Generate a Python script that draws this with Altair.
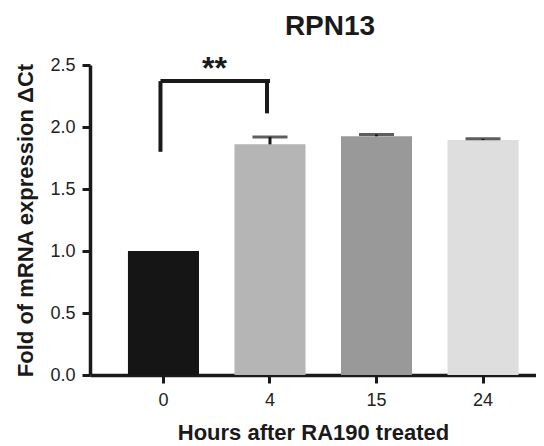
import altair as alt
import pandas as pd

hours = ["0", "4", "15", "24"]
means = [1.0, 1.86, 1.925, 1.895]
errors = [0.0, 0.06, 0.015, 0.01]
colors = ["#151515", "#b5b5b5", "#999999", "#dedede"]

# significance bracket between hour 0 and hour 4
bracket_x = ["0", "4"]
bracket_y_left = 1.80
bracket_y_right = 2.11
bracket_top = 2.37
sig_label = "**"

FONT = "Liberation Sans"
INK = "#1a1a1a"

df = pd.DataFrame({"hour": hours, "mean": means, "err": errors, "color": colors})
df["upper"] = df["mean"] + df["err"]
df_err = df[df["err"] > 0]

xscale = alt.Scale(domain=hours, paddingInner=0.333, paddingOuter=0.26, align=0.685)
yscale = alt.Scale(domain=[0, 2.5], nice=False, zero=True)

x = alt.X("hour:N", scale=xscale, sort=hours,
          axis=alt.Axis(title="Hours after RA190 treated", labelAngle=0))
y = alt.Y("mean:Q", scale=yscale,
          axis=alt.Axis(title="Fold of mRNA expression ΔCt",
                        values=[0, 0.5, 1.0, 1.5, 2.0, 2.5], format=".1f"))

bars = alt.Chart(df).mark_bar().encode(
    x=x, y=y, color=alt.Color("color:N", scale=None)
)

err_rule = alt.Chart(df_err).mark_rule(color=INK, strokeWidth=3).encode(
    x=alt.X("hour:N", scale=xscale, sort=hours, bandPosition=0.5),
    y=alt.Y("mean:Q", scale=yscale),
    y2="upper:Q",
)
err_cap = alt.Chart(df_err).mark_tick(color=INK, thickness=3, size=35).encode(
    x=alt.X("hour:N", scale=xscale, sort=hours),
    y=alt.Y("upper:Q", scale=yscale),
)

br = pd.DataFrame({
    "x": bracket_x,
    "ylow": [bracket_y_left, bracket_y_right],
    "ytop": [bracket_top, bracket_top],
})
br_vert = alt.Chart(br).mark_rule(color=INK, strokeWidth=4, xOffset=-3).encode(
    x=alt.X("x:N", scale=xscale, sort=hours, bandPosition=0.5),
    y=alt.Y("ylow:Q", scale=yscale),
    y2="ytop:Q",
)
br_h = pd.DataFrame({"x1": [bracket_x[0]], "x2": [bracket_x[1]], "y": [bracket_top]})
br_horiz = alt.Chart(br_h).mark_rule(color=INK, strokeWidth=4, xOffset=-3).encode(
    x=alt.X("x1:N", scale=xscale, sort=hours, bandPosition=0.5),
    x2=alt.X2("x2:N", bandPosition=0.5),
    y=alt.Y("y:Q", scale=yscale),
)
sig = alt.Chart(pd.DataFrame({"x": [bracket_x[0]], "y": [bracket_top], "t": [sig_label]})).mark_text(
    fontSize=32, fontWeight="bold", font=FONT, color=INK,
    dx=51, dy=5, baseline="bottom"
).encode(
    x=alt.X("x:N", scale=xscale, sort=hours, bandPosition=0.5),
    y=alt.Y("y:Q", scale=yscale),
    text="t:N",
)

chart = alt.layer(bars, err_rule, err_cap, br_vert, br_horiz, sig).properties(
    width=446, height=310,
    title=alt.TitleParams("RPN13", fontSize=28, fontWeight="bold", font=FONT,
                          color=INK, anchor="middle", offset=12, dx=17),
    autosize=alt.AutoSizeParams(type="none"),
    padding={"left": 82, "top": 57, "right": 0, "bottom": 71},
).configure_view(stroke=None).configure_axis(
    domainColor=INK, domainWidth=3.5, tickColor=INK, tickWidth=3, tickSize=8,
    labelFont=FONT, labelFontSize=18, labelColor="#222222",
    titleFont=FONT, titleFontWeight="bold", titleColor=INK,
    grid=False,
).configure_axisX(
    labelPadding=8, titlePadding=13, titleFontSize=22,
).configure_axisY(
    labelPadding=7, titlePadding=12, titleFontSize=22,
)

chart.save("out.html", embed_options={"renderer": "svg", "actions": False})
